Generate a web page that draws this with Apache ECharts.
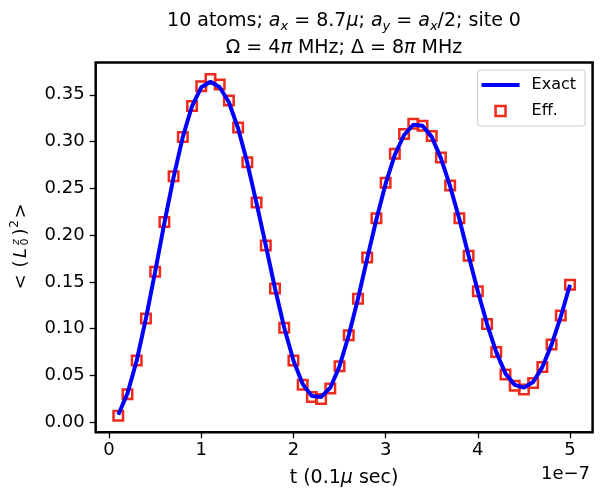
<!DOCTYPE html>
<html>
<head>
<meta charset="utf-8">
<script src="https://cdn.jsdelivr.net/npm/echarts@6.0.0/dist/echarts.min.js"></script>
<style>
  html, body { margin: 0; padding: 0; background: #fff; }
  #main { width: 602px; height: 499px; }
</style>
</head>
<body>
<div id="main"></div>
<script>
// time in units of 1e-7 s
var tValues = [0.1, 0.2, 0.3, 0.4, 0.5, 0.6, 0.7, 0.8, 0.9, 1.0,
               1.1, 1.2, 1.3, 1.4, 1.5, 1.6, 1.7, 1.8, 1.9, 2.0,
               2.1, 2.2, 2.3, 2.4, 2.5, 2.6, 2.7, 2.8, 2.9, 3.0,
               3.1, 3.2, 3.3, 3.4, 3.5, 3.6, 3.7, 3.8, 3.9, 4.0,
               4.1, 4.2, 4.3, 4.4, 4.5, 4.6, 4.7, 4.8, 4.9, 5.0];

// exact result (blue line)
var exactValues = [0.008, 0.031, 0.066, 0.111, 0.161, 0.213, 0.262, 0.305, 0.338, 0.358,
                   0.364, 0.358, 0.342, 0.314, 0.277, 0.234, 0.189, 0.143, 0.101, 0.066,
                   0.041, 0.028, 0.027, 0.037, 0.060, 0.093, 0.132, 0.175, 0.217, 0.255,
                   0.286, 0.307, 0.318, 0.317, 0.305, 0.282, 0.252, 0.217, 0.178, 0.140,
                   0.105, 0.075, 0.052, 0.040, 0.037, 0.043, 0.059, 0.083, 0.113, 0.147];

// effective model (red squares)
var effValues = [0.007, 0.030, 0.066, 0.111, 0.161, 0.214, 0.263, 0.305, 0.338, 0.359,
                 0.367, 0.361, 0.344, 0.315, 0.278, 0.235, 0.189, 0.143, 0.101, 0.066,
                 0.040, 0.027, 0.025, 0.036, 0.060, 0.093, 0.132, 0.176, 0.218, 0.256,
                 0.287, 0.308, 0.319, 0.317, 0.306, 0.283, 0.253, 0.218, 0.178, 0.140,
                 0.105, 0.075, 0.051, 0.039, 0.035, 0.042, 0.059, 0.083, 0.114, 0.147];

var xTicks = [0, 1, 2, 3, 4, 5];
var yTicks = [0, 0.05, 0.10, 0.15, 0.20, 0.25, 0.30, 0.35];

var FONT = 'DejaVu Sans';
var RED = '#f02a1a';

var exactData = tValues.map(function (t, i) { return [t, exactValues[i]]; });
var effData = tValues.map(function (t, i) { return [t, effValues[i]]; });

var myChart = echarts.init(document.getElementById('main'));

function piece(x, y, text, font) {
    return { type: 'text', x: x, y: y,
             style: { text: text, font: font, fill: '#000', align: 'center', verticalAlign: 'middle' } };
}

var option = {
    animation: false,
    textStyle: { fontFamily: FONT },
    grid: {
        left: 95.7, right: 9.4, top: 62.5, bottom: 66.7,
        containLabel: false,
        outerBoundsMode: 'none',
        show: true,
        borderColor: '#000',
        borderWidth: 2.5,
        backgroundColor: 'transparent'
    },
    xAxis: {
        type: 'value',
        position: 'bottom',
        min: -0.145,
        max: 5.245,
        axisLine: { show: false, onZero: false },
        splitLine: { show: false },
        axisTick: { show: true, inside: false, length: 6, customValues: xTicks, lineStyle: { color: '#000', width: 1.3 } },
        axisLabel: {
            customValues: xTicks,
            margin: 9,
            fontSize: 18,
            fontFamily: FONT,
            color: '#000'
        }
    },
    yAxis: {
        type: 'value',
        position: 'left',
        min: -0.0107,
        max: 0.3845,
        axisLine: { show: false, onZero: false },
        splitLine: { show: false },
        axisTick: { show: true, inside: false, length: 6, customValues: yTicks, lineStyle: { color: '#000', width: 1.3 } },
        axisLabel: {
            customValues: yTicks,
            margin: 11,
            fontSize: 18,
            fontFamily: FONT,
            color: '#000',
            formatter: function (v) { return v.toFixed(2); }
        }
    },
    legend: {
        orient: 'vertical',
        right: 17,
        top: 70,
        padding: [7, 9, 7, 4],
        itemWidth: 38,
        itemHeight: 10,
        itemGap: 10,
        backgroundColor: 'rgba(255,255,255,0.8)',
        borderColor: '#cccccc',
        borderWidth: 1,
        borderRadius: 3,
        textStyle: { fontFamily: FONT, fontSize: 16, color: '#000', padding: [0, 0, 0, 7], lineHeight: 16 },
        data: [
            { name: 'Exact', icon: 'path://M0,0H38V4H0Z', itemStyle: { color: '#0000ff', opacity: 1 } },
            { name: 'Eff.', icon: 'path://M0,0H10V10H0Z',
              itemStyle: { color: 'rgba(0,0,0,0)', borderColor: RED, borderWidth: 2.5, opacity: 1 } }
        ]
    },
    series: [
        {
            name: 'Eff.',
            type: 'scatter',
            data: effData,
            symbol: 'rect',
            symbolSize: 9.5,
            itemStyle: { color: 'rgba(0,0,0,0)', borderColor: RED, borderWidth: 2.5, opacity: 1 },
            z: 2
        },
        {
            name: 'Exact',
            type: 'line',
            data: exactData,
            symbol: 'none',
            showSymbol: false,
            smooth: false,
            lineStyle: { color: '#0000ff', width: 4 },
            itemStyle: { color: '#0000ff' },
            z: 3
        }
    ],
    graphic: [
        {
            type: 'text', x: 344, y: 21,
            style: {
                text: '10 atoms; {i|a}{s|x} = 8.7{i|μ}; {i|a}{s|y} = {i|a}{s|x}/2; site 0',
                font: '19px "DejaVu Sans"', fill: '#000',
                align: 'center', verticalAlign: 'middle', lineHeight: 24,
                rich: {
                    i: { fontStyle: 'italic', fontSize: 19, fontFamily: FONT, lineHeight: 24 },
                    s: { fontStyle: 'italic', fontSize: 13, fontFamily: FONT, lineHeight: 13, verticalAlign: 'bottom' }
                }
            }
        },
        {
            type: 'text', x: 344, y: 48,
            style: {
                text: 'Ω = 4{i|π} MHz; Δ = 8{i|π} MHz',
                font: '19px "DejaVu Sans"', fill: '#000',
                align: 'center', verticalAlign: 'middle', lineHeight: 24,
                rich: {
                    i: { fontStyle: 'italic', fontSize: 19, fontFamily: FONT, lineHeight: 24 }
                }
            }
        },
        {
            type: 'text', x: 344, y: 478,
            style: {
                text: 't (0.1{i|μ} sec)',
                font: '19px "DejaVu Sans"', fill: '#000',
                align: 'center', verticalAlign: 'middle',
                rich: { i: { fontStyle: 'italic', fontSize: 19, fontFamily: FONT } }
            }
        },
        {
            type: 'text', x: 590, y: 474,
            style: {
                text: '1e\u22127',
                font: '18px "DejaVu Sans"', fill: '#000',
                align: 'right', verticalAlign: 'middle'
            }
        },
        {
            // y label: < (L_0^z)^2 >, read bottom to top
            type: 'group', x: 21, y: 248, rotation: Math.PI / 2,
            children: [
                piece(-34, 0, '<', '18px "DejaVu Sans"'),
                piece(-16, 0, '(', '18px "DejaVu Sans"'),
                piece(-5, 0, 'L', 'italic 18px "DejaVu Sans"'),
                piece(6, -5, 'z', 'italic 11px "DejaVu Sans"'),
                piece(6, 4.5, '0', '11px "DejaVu Sans"'),
                piece(16, 0, ')', '18px "DejaVu Sans"'),
                piece(24, -6, '2', '12px "DejaVu Sans"'),
                piece(37, 0, '>', '18px "DejaVu Sans"')
            ]
        }
    ]
};

myChart.setOption(option);
</script>
</body>
</html>
